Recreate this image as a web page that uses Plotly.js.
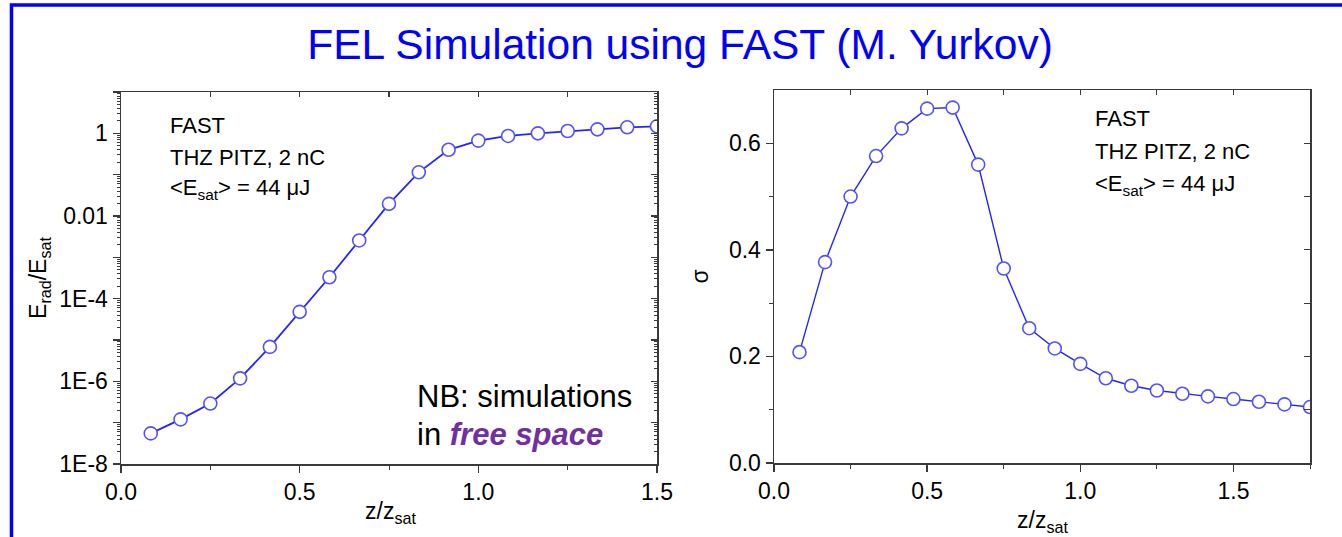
<!DOCTYPE html>
<html>
<head>
<meta charset="utf-8">
<script src="https://cdn.plot.ly/plotly-3.0.1.min.js"></script>
<style>
html,body{margin:0;padding:0;background:#fff;}
#chart{width:1342px;height:537px;}
</style>
</head>
<body>
<div id="chart"></div>
<script>
// ---- data ----
const zLeft = [0.0833, 0.1667, 0.25, 0.3333, 0.4167, 0.5, 0.5833, 0.6667, 0.75,
               0.8333, 0.9167, 1.0, 1.0833, 1.1667, 1.25, 1.3333, 1.4167, 1.5];
const energyRatio = [5.5e-8, 1.2e-7, 2.9e-7, 1.18e-6, 6.8e-6, 4.8e-5, 3.3e-4, 2.56e-3, 0.0197,
                     0.114, 0.40, 0.667, 0.865, 1.0, 1.14, 1.25, 1.40, 1.48];
const zRight = [0.0833, 0.1667, 0.25, 0.3333, 0.4167, 0.5, 0.5833, 0.6667, 0.75,
                0.8333, 0.9167, 1.0, 1.0833, 1.1667, 1.25, 1.3333, 1.4167, 1.5,
                1.5833, 1.6667, 1.75];
const sigma = [0.208, 0.377, 0.500, 0.576, 0.628, 0.665, 0.667, 0.560, 0.365,
               0.253, 0.215, 0.186, 0.159, 0.145, 0.136, 0.130, 0.125, 0.120,
               0.115, 0.110, 0.105];
const logTickVals = [1e-8, 1e-6, 1e-4, 1e-2, 1];
const logTickText = ['1E-8', '1E-6', '1E-4', '0.01', '1'];
const logOddDecades = [1e-7, 1e-5, 1e-3, 1e-1, 10];
const logAllDecades = [1e-8, 1e-7, 1e-6, 1e-5, 1e-4, 1e-3, 1e-2, 1e-1, 1, 10];
const xTickVals = [0, 0.5, 1.0, 1.5];
const xTickText = ['0.0', '0.5', '1.0', '1.5'];
const sigmaTickVals = [0, 0.2, 0.4, 0.6];
const sigmaTickText = ['0.0', '0.2', '0.4', '0.6'];
const xTitle = 'z/z<sub>sat</sub>';
const infoLines = ['FAST', 'THZ PITZ, 2 nC', '&lt;E<sub>sat</sub>&gt; = 44 μJ'];
const noteLines = ['NB: simulations', 'in <b><i><span style="color:#7030a0">free space</span></i></b>'];

// minor tick positions for log axis (2..9 x 10^k)
const logMinor = [];
for (let k = -8; k < 1; k++) { for (let m = 2; m <= 9; m++) logMinor.push(m * Math.pow(10, k)); }

const W = 1342, H = 537;
const FONT = 'Liberation Sans, Arial, sans-serif';
const lineCol = '#2424ff', markCol = '#5252ff', axCol = '#3a3a3a';

const markerStyle = {symbol: 'circle', size: 13, color: '#ffffff', line: {color: markCol, width: 1.6}};

const traces = [
  {x: zLeft, y: energyRatio, xaxis: 'x', yaxis: 'y', mode: 'lines+markers',
   line: {color: lineCol, width: 1.8}, marker: markerStyle, showlegend: false, hoverinfo: 'x+y'},
  {x: zRight, y: sigma, xaxis: 'x2', yaxis: 'y2', mode: 'lines+markers',
   line: {color: lineCol, width: 1.4}, marker: markerStyle, showlegend: false, hoverinfo: 'x+y'},
  {x: [], y: [], xaxis: 'x3', yaxis: 'y3', showlegend: false},
  {x: [], y: [], xaxis: 'x4', yaxis: 'y4', showlegend: false},
  {x: [], y: [], xaxis: 'x', yaxis: 'y5', showlegend: false}
];

const lx = [121 / W, 657 / W], ly = [1 - 464 / H, 1 - 92 / H];
const rx = [774 / W, 1310 / W], ry = [1 - 463 / H, 1 - 90 / H];

const tickFont = {family: FONT, size: 23, color: '#000'};
const titleFont = {family: FONT, size: 23, color: '#000'};

function mainX(domain, anchor, range) {
  return {domain: domain, anchor: anchor, range: range, showgrid: false, zeroline: false,
    showline: true, linecolor: axCol, linewidth: 1.5, mirror: true,
    ticks: 'outside', ticklen: 7, tickwidth: 1.3, tickcolor: axCol,
    tickmode: 'array', tickvals: xTickVals, ticktext: xTickText, tickfont: tickFont,
    minor: {tickmode: 'array', tickvals: [0.25, 0.75, 1.25, 1.75], ticks: 'outside', ticklen: 4, tickwidth: 1, tickcolor: axCol}};
}
function topX(overlay, anchor, range) {
  return {overlaying: overlay, anchor: anchor, side: 'top', range: range, showgrid: false, zeroline: false,
    showline: false, ticks: 'inside', ticklen: 5, tickwidth: 1.2, tickcolor: axCol, showticklabels: false,
    tickmode: 'linear', tick0: 0, dtick: 0.25};
}

const annotations = [];
const leftInfoY = [125, 157, 189], rightInfoY = [118, 151, 185], noteY = [396, 434];
infoLines.forEach((t, i) => {
  annotations.push({xref: 'paper', yref: 'paper', x: 168 / W, y: 1 - leftInfoY[i] / H, xanchor: 'left', yanchor: 'middle',
    showarrow: false, font: {family: FONT, size: 22, color: '#000'}, text: t});
  annotations.push({xref: 'paper', yref: 'paper', x: 1093 / W, y: 1 - rightInfoY[i] / H, xanchor: 'left', yanchor: 'middle',
    showarrow: false, font: {family: FONT, size: 22, color: '#000'}, text: t});
});
noteLines.forEach((t, i) => {
  annotations.push({xref: 'paper', yref: 'paper', x: 415 / W, y: 1 - noteY[i] / H, xanchor: 'left', yanchor: 'middle',
    showarrow: false, font: {family: FONT, size: 31, color: '#000'}, text: t});
});
// x-axis titles
annotations.push({xref: 'paper', yref: 'paper', x: 390 / W, y: 1 - 512 / H, xanchor: 'center', yanchor: 'middle',
  showarrow: false, font: titleFont, text: xTitle});
annotations.push({xref: 'paper', yref: 'paper', x: 1042 / W, y: 1 - 521 / H, xanchor: 'center', yanchor: 'middle',
  showarrow: false, font: titleFont, text: xTitle});

const layout = {
  width: W, height: H,
  margin: {l: 0, r: 0, t: 0, b: 0},
  paper_bgcolor: '#ffffff', plot_bgcolor: '#ffffff',
  font: {family: FONT, color: '#000'},
  title: {text: 'FEL Simulation using FAST (M. Yurkov)', x: 680 / W, xanchor: 'center',
          y: 1 - 44 / H, yanchor: 'middle', font: {family: FONT, size: 42.5, color: '#0000ff'}},
  xaxis: mainX(lx, 'y', [0, 1.5]),
  yaxis: {domain: ly, anchor: 'x', type: 'log', range: [-8, 1], showgrid: false, zeroline: false,
    showline: true, linecolor: axCol, linewidth: 1.5, mirror: true,
    ticks: 'outside', ticklen: 7, tickwidth: 1.3, tickcolor: axCol,
    tickmode: 'array', tickvals: logTickVals, ticktext: logTickText, tickfont: tickFont,
    minor: {tickmode: 'array', tickvals: logMinor, ticks: 'outside', ticklen: 3, tickwidth: 1, tickcolor: axCol},
    title: {text: 'E<sub>rad</sub>/E<sub>sat</sub>', font: titleFont, standoff: 6}},
  yaxis5: {overlaying: 'y', anchor: 'x', side: 'left', type: 'log', range: [-8, 1], showgrid: false, zeroline: false,
    showline: false, ticks: 'outside', ticklen: 7, tickwidth: 1.3, tickcolor: axCol, showticklabels: false,
    tickmode: 'array', tickvals: logOddDecades},
  xaxis3: topX('x', 'y', [0, 1.5]),
  yaxis3: {overlaying: 'y', anchor: 'x', side: 'right', type: 'log', range: [-8, 1], showgrid: false, zeroline: false,
    showline: false, ticks: 'inside', ticklen: 6, tickwidth: 1.2, tickcolor: axCol, showticklabels: false,
    tickmode: 'array', tickvals: logAllDecades,
    minor: {tickmode: 'array', tickvals: logMinor, ticks: 'inside', ticklen: 3, tickwidth: 1, tickcolor: axCol}},
  xaxis2: mainX(rx, 'y2', [0, 1.75]),
  yaxis2: {domain: ry, anchor: 'x2', range: [0, 0.7], showgrid: false, zeroline: false,
    showline: true, linecolor: axCol, linewidth: 1.5, mirror: true,
    ticks: 'outside', ticklen: 7, tickwidth: 1.3, tickcolor: axCol,
    tickmode: 'array', tickvals: sigmaTickVals, ticktext: sigmaTickText, tickfont: tickFont,
    minor: {tickmode: 'array', tickvals: [0.1, 0.3, 0.5], ticks: 'outside', ticklen: 4, tickwidth: 1, tickcolor: axCol},
    title: {text: 'σ', font: titleFont, standoff: 14}},
  xaxis4: topX('x2', 'y2', [0, 1.75]),
  yaxis4: {overlaying: 'y2', anchor: 'x2', side: 'right', range: [0, 0.7], showgrid: false, zeroline: false,
    showline: false, ticks: 'inside', ticklen: 6, tickwidth: 1.2, tickcolor: axCol, showticklabels: false,
    tickmode: 'linear', tick0: 0, dtick: 0.1},
  shapes: [
    {type: 'rect', xref: 'paper', yref: 'paper', x0: 11.5 / W, x1: 1.05, y0: -0.05, y1: 1 - 5 / H,
     line: {color: '#0000ff', width: 3.5}, fillcolor: 'rgba(0,0,0,0)', layer: 'below'}
  ],
  annotations: annotations
};

Plotly.newPlot('chart', traces, layout, {displayModeBar: false, staticPlot: true});
</script>
</body>
</html>
